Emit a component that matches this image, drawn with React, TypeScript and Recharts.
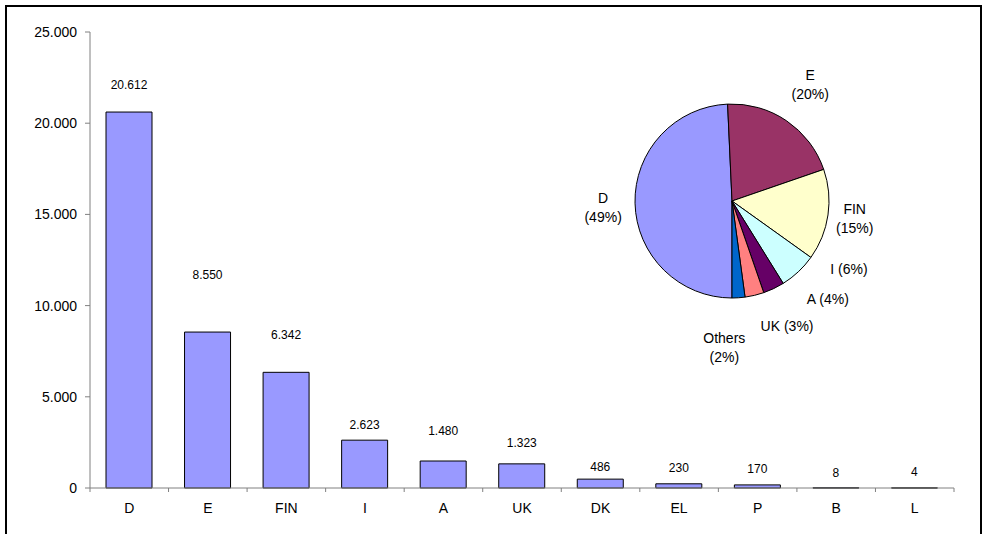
import React from "react";
import { BarChart, Bar, XAxis, YAxis, LabelList, PieChart, Pie, Cell } from "recharts";

// bar values per country
const countries = ["D", "E", "FIN", "I", "A", "UK", "DK", "EL", "P", "B", "L"];
const amounts = [20612, 8550, 6342, 2623, 1480, 1323, 486, 230, 170, 8, 4];
const yTicks = [0, 5000, 10000, 15000, 20000, 25000];

// pie: the first six countries, the rest folded into "Others"
const pieShown = 6;
const pieColors = ["#9999FF", "#993366", "#FFFFCC", "#CCFFFF", "#660066", "#FF8080", "#0066CC"];

// layout bits (not data): how far each value label sits above its bar, in px
const labelLift = [27, 57, 37, 15, 30, 21, 12, 16, 16, 15, 16];
// pie label spots: [degrees clockwise from 12 o'clock, distance from centre]
const pieLabelSpots: Record<string, [number, number]> = {
  D: [-92.7, 129],
  E: [34, 140],
  FIN: [98.3, 124],
  I: [120, 135],
  A: [135.6, 137],
  UK: [156.3, 137],
  Others: [183, 147],
};
const twoLine = ["D", "E", "FIN", "Others"];

const FONT = '"Liberation Sans", Arial, sans-serif';
const AXIS = "#808080";
const W = 982;
const H = 534;
const LEFT = 90;
const RIGHT = 28;
const BAND = (W - LEFT - RIGHT) / countries.length;

const barData = countries.map((c, i) => ({ country: c, amount: amounts[i] }));
const total = amounts.reduce((s, v) => s + v, 0);
const pieData = [
  ...countries.slice(0, pieShown).map((c, i) => ({ name: c, value: amounts[i] })),
  { name: "Others", value: amounts.slice(pieShown).reduce((s, v) => s + v, 0) },
];

const dotted = (n: number) => String(n).replace(/\B(?=(\d{3})+(?!\d))/g, ".");

function CategoryTick(props: any) {
  const { x, y, payload, index } = props;
  const half = payload?.offset || BAND / 2;
  return (
    <g>
      <line x1={x - half} x2={x - half} y1={y} y2={y + 4} stroke={AXIS} />
      {index === countries.length - 1 && (
        <line x1={x + half} x2={x + half} y1={y} y2={y + 4} stroke={AXIS} />
      )}
      <text x={x} y={y + 20} textAnchor="middle" dominantBaseline="central" fontSize={14} fill="#000" fontFamily={FONT}>
        {payload.value}
      </text>
    </g>
  );
}

function ValueLabel(props: any) {
  const { x, y, width, value, index } = props;
  return (
    <text
      x={x + width / 2}
      y={y - labelLift[index]}
      textAnchor="middle"
      dominantBaseline="central"
      fontSize={12}
      fill="#000"
      fontFamily={FONT}
    >
      {dotted(value)}
    </text>
  );
}

function PieLabel(props: any) {
  const { cx, cy, index } = props;
  const slice = pieData[index];
  const [ang, dist] = pieLabelSpots[slice.name];
  const rad = (ang * Math.PI) / 180;
  const x = cx + dist * Math.sin(rad);
  const y = cy - dist * Math.cos(rad);
  const pct = `(${Math.round((slice.value / total) * 100)}%)`;
  if (twoLine.includes(slice.name)) {
    return (
      <text x={x} y={y} textAnchor="middle" fontSize={14} fill="#000" fontFamily={FONT}>
        <tspan x={x} y={y - 9.5} dominantBaseline="central">{slice.name}</tspan>
        <tspan x={x} y={y + 9.5} dominantBaseline="central">{pct}</tspan>
      </text>
    );
  }
  return (
    <text x={x} y={y} textAnchor="middle" dominantBaseline="central" fontSize={14} fill="#000" fontFamily={FONT}>
      {`${slice.name} ${pct}`}
    </text>
  );
}

export default function App() {
  return (
    <div
      style={{
        position: "absolute",
        left: 0,
        top: 0,
        width: W,
        height: H,
        overflow: "hidden",
        background: "#fff",
        fontFamily: FONT,
      }}
    >
      <div
        style={{
          position: "absolute",
          left: 5,
          top: 5,
          width: 973,
          height: 600,
          border: "2px solid #000",
        }}
      />
      <div style={{ position: "absolute", left: 0, top: 0 }}>
        <BarChart width={W} height={H} data={barData} margin={{ top: 32, right: RIGHT, bottom: 0, left: 0 }} barSize={46}>
          <XAxis
            dataKey="country"
            height={46}
            interval={0}
            stroke={AXIS}
            tickLine={false}
            tickSize={0}
            tickMargin={0}
            tick={<CategoryTick />}
          />
          <YAxis
            width={LEFT}
            domain={[0, 25000]}
            ticks={yTicks}
            interval={0}
            stroke={AXIS}
            tickSize={5}
            tickMargin={8}
            tickFormatter={dotted}
            tick={{ fill: "#000", fontSize: 14, fontFamily: FONT }}
          />
          <Bar dataKey="amount" fill="#9999FF" stroke="#000" strokeWidth={1} isAnimationActive={false}>
            <LabelList dataKey="amount" content={<ValueLabel />} />
          </Bar>
        </BarChart>
      </div>
      <div style={{ position: "absolute", left: 562, top: 31 }}>
        <PieChart width={340} height={340} margin={{ top: 0, right: 0, bottom: 0, left: 0 }}>
          <Pie
            data={pieData}
            dataKey="value"
            nameKey="name"
            cx={170}
            cy={170}
            outerRadius={97}
            startAngle={270}
            endAngle={-90}
            stroke="#000"
            strokeWidth={1}
            labelLine={false}
            label={PieLabel}
            isAnimationActive={false}
          >
            {pieData.map((d, i) => (
              <Cell key={d.name} fill={pieColors[i]} />
            ))}
          </Pie>
        </PieChart>
      </div>
    </div>
  );
}
